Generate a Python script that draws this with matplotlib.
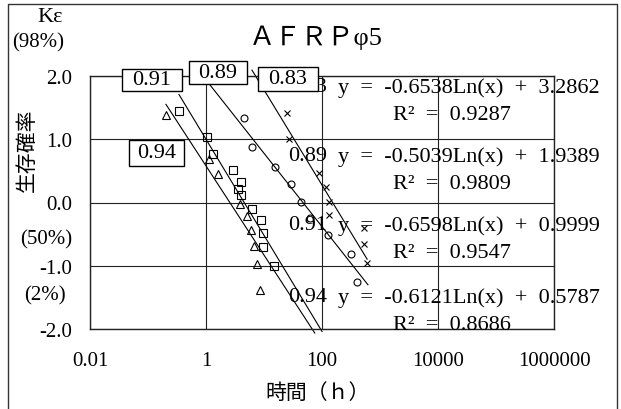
import numpy as np
import matplotlib
matplotlib.use("Agg")
import matplotlib.pyplot as plt
from matplotlib.patches import Rectangle
from matplotlib.lines import Line2D

plt.rcParams['font.family'] = ['Liberation Serif', 'Noto Sans CJK JP']
plt.rcParams['axes.unicode_minus'] = False

# data (time in h, K-epsilon)
tri_t = [0.204, 1.14, 1.59, 3.90, 5.03, 5.97, 6.73, 7.48, 8.53]
tri_k = [1.39, 0.68, 0.45, -0.02, -0.22, -0.44, -0.68, -0.98, -1.39]

sq_t = [0.342, 1.03, 1.34, 2.96, 4.01, 3.52, 4.01, 6.14, 8.77, 9.5, 9.5, 14.7]
sq_k = [1.45, 1.04, 0.76, 0.52, 0.32, 0.21, 0.12, -0.10, -0.28, -0.49, -0.71, -1.00]

cir_t = [4.57, 6.21, 15.5, 28.9, 43.5, 62.1, 127, 316, 401]
cir_k = [1.33, 0.88, 0.56, 0.29, 0.01, -0.24, -0.52, -0.82, -1.25]

crs_t = [25.2, 26.7, 89.8, 117, 134, 132, 530, 530, 597]
crs_k = [1.42, 1.00, 0.46, 0.25, 0.01, -0.19, -0.41, -0.65, -0.96]

# log trendlines: k = a*ln(t) + b
names = ['0.83', '0.89', '0.91', '0.94']
slope = [-0.6538, -0.5039, -0.6598, -0.6121]
icept = [3.2862, 1.9389, 0.9999, 0.5787]
r2 = [0.9287, 0.9809, 0.9547, 0.8686]
trend_lo = [6.2, 1.0, 0.342, 0.204]
trend_hi = [600, 620, 100, 75]

xticks = [0.01, 1, 100, 10000, 1000000]
xticklabels = ['0.01', '1', '100', '10000', '1000000']
yticks = [-2, -1, 0, 1, 2]
yticklabels = ['-2.0', '-1.0', '0.0', '1.0', '2.0']

W, H = 621, 410


def fx(x):
    return x / W


def fy(y):
    return 1 - y / H


fig = plt.figure(figsize=(W / 100, H / 100), dpi=100)
ax = fig.add_axes([fx(90), fy(330), (554 - 90) / W, (330 - 77) / H])

ax.set_xscale('log')
ax.set_xlim(0.01, 1000000)
ax.set_ylim(-2, 2)
ax.set_xticks(xticks)
ax.set_xticklabels(xticklabels, fontsize=15)
ax.set_yticks(yticks)
ax.set_yticklabels(yticklabels, fontsize=15)
ax.minorticks_off()
ax.tick_params(axis='x', length=0, pad=16)
ax.tick_params(axis='y', length=0, pad=13)
ax.grid(True, color='#222222', lw=0.8)
ax.set_axisbelow(True)
for s in ax.spines.values():
    s.set_color('#222222')
    s.set_linewidth(1.0)

mk = dict(ls='none', mfc='none', mec='black', mew=0.8, clip_on=False, zorder=3)
ax.plot(crs_t, crs_k, marker='x', ms=5, **mk)
ax.plot(cir_t, cir_k, marker='o', ms=5, **mk)
ax.plot(sq_t, sq_k, marker='s', ms=6, **mk)
ax.plot(tri_t, tri_k, marker='^', ms=5.5, **mk)

for a, b, lo, hi in zip(slope, icept, trend_lo, trend_hi):
    t = np.geomspace(lo, hi, 60)
    ax.plot(t, a * np.log(t) + b, color='black', lw=0.8, clip_on=False, zorder=2)

# equations on the right
row_y = [88, 157, 226, 298]
for n, a, b, r, y in zip(names, slope, icept, r2, row_y):
    fig.text(fx(288), fy(y), n, fontsize=16, va='center', zorder=3)
    fig.text(fx(338), fy(y), 'y  =  %.4fLn(x)  +  %.4f' % (a, b),
             fontsize=16, va='center', zorder=3)
    fig.text(fx(393), fy(y + 28), 'R²  =  %.4f' % r, fontsize=16,
             va='center', zorder=3)

# boxed series labels
boxes = {'0.91': (122, 70, 182, 92), '0.89': (189, 62, 247, 85),
         '0.83': (258, 68, 318, 92), '0.94': (129, 141, 184, 167)}
for txt, (x0, y0, x1, y1) in boxes.items():
    fig.add_artist(Rectangle((fx(x0), fy(y1)), (x1 - x0) / W, (y1 - y0) / H,
                             transform=fig.transFigure, fc='white',
                             ec='black', lw=1.0, zorder=5))
    fig.text(fx((x0 + x1) / 2), fy((y0 + y1) / 2), txt, fontsize=16,
             ha='center', va='center', zorder=6)

fig.text(fx(316), fy(38), 'ＡＦＲＰφ5', fontsize=19, ha='center', va='center')
fig.text(fx(50), fy(17), 'Kε', fontsize=16, ha='center', va='center')
fig.text(fx(38), fy(43), '(98%)', fontsize=15, ha='center', va='center')
fig.text(fx(46), fy(240), '(50%)', fontsize=15, ha='center', va='center')
fig.text(fx(45), fy(296), '(2%)', fontsize=15, ha='center', va='center')
fig.text(fx(28), fy(150), '生存確率', fontsize=15, rotation=90,
         ha='center', va='center')
fig.text(fx(318), fy(394), '時間（ｈ）', fontsize=15, ha='center', va='center')

# outer chart frame
fig.add_artist(Line2D([fx(8), fx(8), fx(617), fx(617)],
                      [fy(410), fy(5), fy(5), fy(410)],
                      transform=fig.transFigure, color='#333333', lw=1.0))

fig.savefig('out.png', dpi=100)
